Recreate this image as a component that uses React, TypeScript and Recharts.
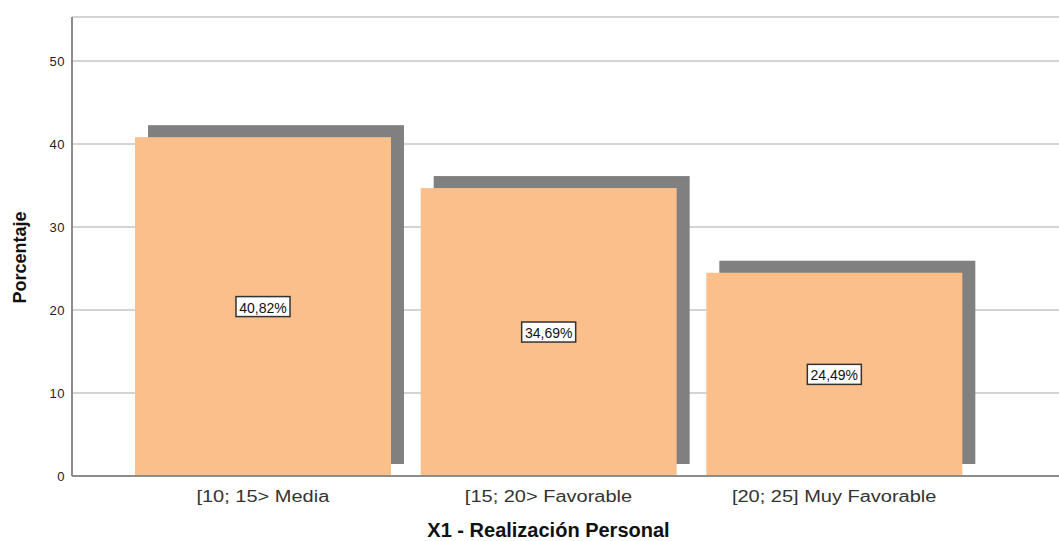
import React from "react";
import {
  BarChart,
  Bar,
  XAxis,
  YAxis,
  CartesianGrid,
  LabelList,
  Label,
} from "recharts";

const categories = ["[10; 15> Media", "[15; 20> Favorable", "[20; 25] Muy Favorable"];
const percentages = [40.82, 34.69, 24.49];
const valueLabels = ["40,82%", "34,69%", "24,49%"];
const yTicks = [0, 10, 20, 30, 40, 50];

const data = categories.map((name, i) => ({
  name,
  pct: percentages[i],
  label: valueLabels[i],
}));

const FONT = "Arial, 'Liberation Sans', sans-serif";
const BAR_FILL = "#fbbf8c";
const SHADOW_FILL = "#808080";
const AXIS_COLOR = "#8c8c8c";
const PAD_LEFT = 48;
const PAD_RIGHT = 82;

// bar with an offset drop shadow behind it
function ShadowBar(props: any) {
  const { x, y, width, height } = props;
  if (!height || height <= 0) return null;
  return (
    <g>
      <rect x={x + 13} y={y - 12} width={width} height={height} fill={SHADOW_FILL} />
      <rect x={x} y={y} width={width} height={height} fill={BAR_FILL} />
    </g>
  );
}

// boxed percentage in the middle of each bar
function BoxLabel(props: any) {
  const { x, y, width, height, value } = props;
  const cx = x + width / 2;
  const cy = y + height / 2;
  const w = String(value).length * 8 + 6;
  const h = 20;
  return (
    <g>
      <rect
        x={cx - w / 2}
        y={cy - h / 2}
        width={w}
        height={h}
        fill="#ffffff"
        stroke="#333333"
        strokeWidth={1.5}
      />
      <text
        x={cx}
        y={cy + 1}
        textAnchor="middle"
        dominantBaseline="central"
        fontFamily={FONT}
        fontSize={14}
        fill="#111111"
      >
        {value}
      </text>
    </g>
  );
}

// category names are drawn slightly wide
function CategoryTick(props: any) {
  const { x, y, payload } = props;
  return (
    <g transform={`translate(${x}, ${y}) scale(1.25, 1)`}>
      <text
        x={0}
        y={0}
        dy={11}
        textAnchor="middle"
        fontFamily={FONT}
        fontSize={16}
        fill="#333333"
      >
        {payload.value}
      </text>
    </g>
  );
}

function YTitle(props: any) {
  const vb = props.viewBox;
  const x = vb.x + 20;
  const y = vb.y + vb.height / 2 + 11;
  return (
    <text
      x={x}
      y={y}
      transform={`rotate(-90, ${x}, ${y})`}
      textAnchor="middle"
      dominantBaseline="central"
      fontFamily={FONT}
      fontWeight="bold"
      fontSize={18}
      fill="#111111"
    >
      Porcentaje
    </text>
  );
}

function XTitle(props: any) {
  const vb = props.viewBox;
  const x = vb.x + PAD_LEFT + (vb.width - PAD_LEFT - PAD_RIGHT) / 2;
  return (
    <text
      x={x}
      y={537}
      textAnchor="middle"
      fontFamily={FONT}
      fontWeight="bold"
      fontSize={20}
      fill="#111111"
    >
      X1 - Realización Personal
    </text>
  );
}

export default function App() {
  return (
    <div style={{ position: "absolute", left: 0, top: 0, background: "#fff" }}>
      <BarChart
        width={1059}
        height={541}
        data={data}
        margin={{ top: 17, right: 0, left: 0, bottom: 0 }}
      >
        <CartesianGrid
          vertical={false}
          stroke="#d4d4d4"
          strokeWidth={2}
        />
        <XAxis
          dataKey="name"
          height={65}
          padding={{ left: PAD_LEFT, right: PAD_RIGHT }}
          axisLine={{ stroke: AXIS_COLOR, strokeWidth: 2 }}
          tickLine={false}
          tickSize={0}
          tickMargin={15}
          tick={CategoryTick}
          interval={0}
        >
          <Label content={XTitle} />
        </XAxis>
        <YAxis
          width={72}
          domain={[0, 55.3]}
          ticks={yTicks}
          allowDataOverflow
          axisLine={{ stroke: AXIS_COLOR, strokeWidth: 2 }}
          tickLine={false}
          tickSize={0}
          tickMargin={7}
          tick={{ fontFamily: FONT, fontSize: 13, fill: "#222222", letterSpacing: 0.5 }}
        >
          <Label content={YTitle} />
        </YAxis>
        <Bar dataKey="pct" barSize={256} shape={ShadowBar} isAnimationActive={false}>
          <LabelList dataKey="label" content={BoxLabel} />
        </Bar>
      </BarChart>
    </div>
  );
}
